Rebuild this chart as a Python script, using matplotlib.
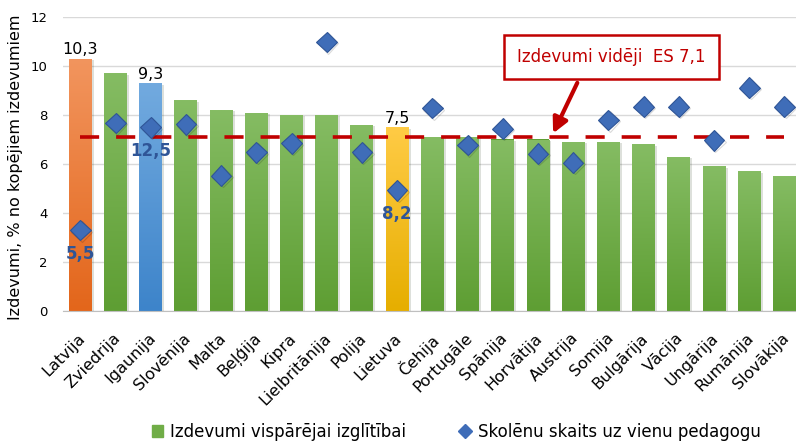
import numpy as np
import matplotlib
matplotlib.use('Agg')
import matplotlib.pyplot as plt
import matplotlib.patheffects as pe
from matplotlib.colors import LinearSegmentedColormap
from matplotlib.lines import Line2D
from matplotlib.patches import Patch
from matplotlib.transforms import ScaledTranslation

# ------------------------------------------------------------
# Data
# ------------------------------------------------------------
countries = ['Latvija', 'Zviedrija', 'Igaunija', 'Slovēnija', 'Malta', 'Beļģija',
             'Kipra', 'Lielbritānija', 'Polija', 'Lietuva', 'Čehija', 'Portugāle',
             'Spānija', 'Horvātija', 'Austrija', 'Somija', 'Bulgārija', 'Vācija',
             'Ungārija', 'Rumānija', 'Slovākija']
spending = [10.3, 9.7, 9.3, 8.6, 8.2, 8.1, 8.0, 8.0, 7.6, 7.5, 7.1,
            7.1, 7.0, 7.0, 6.9, 6.9, 6.8, 6.3, 5.9, 5.7, 5.5]
pupils_per_teacher = [5.5, 12.8, 12.5, 12.7, 9.2, 10.8, 11.4, 18.3, 10.8, 8.2, 13.8,
                      11.3, 12.4, 10.7, 10.1, 13.0, 13.9, 13.9, 11.6, 15.2, 13.9]
es_average = 7.1
labelled = ['Latvija', 'Igaunija', 'Lietuva']

# bar gradients (bottom, top)
grad_colors = {
    'default': ('#5E9E33', '#85BC63'),
    'Latvija': ('#E3661B', '#F2955E'),
    'Igaunija': ('#3D84CA', '#72AADF'),
    'Lietuva': ('#E6AE00', '#FFCB45'),
}
dark_red = '#C00000'
diamond_blue = '#3F6DB8'

W, H = 796, 447
fig = plt.figure(figsize=(W / 100, H / 100), dpi=100)
ax = fig.add_axes([62.7 / W, 136 / H, (802 - 62.7) / W, 294 / H])

x = np.arange(len(countries))
bars = ax.bar(x, spending, width=0.65, color=grad_colors['default'][0], zorder=2)
grad = np.linspace(0, 1, 128).reshape(-1, 1)
for name, bar in zip(countries, bars):
    lo, hi = grad_colors.get(name, grad_colors['default'])
    cmap = LinearSegmentedColormap.from_list('g', [lo, hi])
    bar.set_path_effects([pe.SimplePatchShadow(offset=(1.5, -1), alpha=0.15), pe.Normal()])
    bx, bw, bh = bar.get_x(), bar.get_width(), bar.get_height()
    im = ax.imshow(grad, cmap=cmap, origin='lower', aspect='auto',
                   extent=[bx, bx + bw, 0, bh], zorder=2.1)
    im.set_clip_path(bar)

# EU average line
ax.plot([x[0], x[-1]], [es_average, es_average], color=dark_red, lw=2.6,
        dashes=(5.3, 4.7), zorder=3)

ax.set_xlim(-0.5, len(countries) - 0.5)
ax.set_ylim(0, 12)
ax.set_yticks(np.arange(0, 13, 2))
ax.grid(axis='y', color='#D9D9D9', lw=1, zorder=0)
ax.set_axisbelow(True)
for s in ['top', 'right', 'left']:
    ax.spines[s].set_visible(False)
ax.spines['bottom'].set_color('#BFBFBF')
ax.tick_params(axis='y', length=0, pad=11, labelsize=9.5, labelcolor='black')
ax.tick_params(axis='x', length=0, pad=14)
ax.set_xticks(x)
ax.set_xticklabels(countries, rotation=45, ha='right', va='top',
                   rotation_mode='anchor', fontsize=11.5)
for lab in ax.get_xticklabels():
    lab.set_transform(lab.get_transform() + ScaledTranslation(-3 / 100, 0, fig.dpi_scale_trans))

fig.text(16 / W, 1 - 167 / H, 'Izdevumi, % no kopējiem izdevumiem', rotation=90,
         ha='center', va='center', fontsize=11.5)

# bar value labels
for name, bar, val in zip(countries, bars, spending):
    if name in labelled:
        ax.annotate(f'{val:.1f}'.replace('.', ','), (bar.get_x() + bar.get_width() / 2, val),
                    xytext=(0, 1), textcoords='offset points', ha='center', va='bottom',
                    fontsize=11.5, color='black', zorder=5)

# secondary (hidden) axis for pupils per teacher
ax2 = ax.twinx()
ax2.set_ylim(0, 20)
ax2.axis('off')
ax2.plot(x, pupils_per_teacher, ls='none', marker='D', ms=10.5, color=diamond_blue,
         mec='#2F5597', mew=0.8, zorder=4,
         path_effects=[pe.SimpleLineShadow(offset=(1, -1), alpha=0.15), pe.Normal()])
for name, xi, val in zip(countries, x, pupils_per_teacher):
    if name in labelled:
        ax2.annotate(f'{val:.1f}'.replace('.', ','), (xi, val), xytext=(0, -17),
                     textcoords='offset points', ha='center', va='center',
                     fontsize=12, fontweight='bold', color='#2F5597', zorder=5)

ax2.annotate('Izdevumi vidēji  ES 7,1', xy=(13.43, 7.25), xytext=(15.09, 10.35),
             xycoords=ax.transData, textcoords=ax.transData,
             ha='center', va='center', fontsize=12, color=dark_red, zorder=6,
             bbox=dict(boxstyle='square,pad=0.78', fc='white', ec=dark_red, lw=1.8),
             arrowprops=dict(arrowstyle='-|>,head_length=0.75,head_width=0.38',
                             color=dark_red, lw=3, relpos=(0.36, 0), shrinkA=2, shrinkB=0))

handles = [Patch(color='#70AD47', label='Izdevumi vispārējai izglītībai'),
           Line2D([], [], ls='none', marker='D', ms=7, color=diamond_blue,
                  label='Skolēnu skaits uz vienu pedagogu')]
fig.legend(handles=handles, loc='center', bbox_to_anchor=(0.573, 0.034), ncol=2,
           frameon=False, fontsize=12, handlelength=0.7, handleheight=0.7,
           handletextpad=0.4, columnspacing=3.2)

fig.savefig('out.png', dpi=100)
